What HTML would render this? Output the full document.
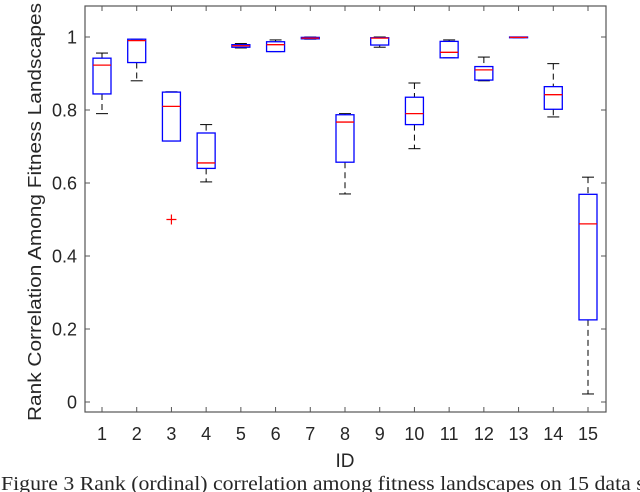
<!DOCTYPE html>
<html><head><meta charset="utf-8"><style>
body{margin:0;background:#fff;width:640px;height:492px;overflow:hidden}
svg{display:block}
text{font-family:"Liberation Sans",sans-serif;fill:#262626}
</style></head><body>
<svg id="c" width="640" height="492">
<rect x="85" y="6" width="521" height="406" fill="#fff" stroke="#555" stroke-width="1.2"/>
<g id="marks"></g>
<text x="345" y="467" font-size="19" text-anchor="middle">ID</text>
<text transform="translate(41,212) rotate(-90)" font-size="18.5" text-anchor="middle" textLength="418" lengthAdjust="spacingAndGlyphs">Rank Correlation Among Fitness Landscapes</text>
<text x="1" y="490" font-size="19.5" textLength="668" lengthAdjust="spacingAndGlyphs" style="font-family:'Liberation Serif',serif" fill="#000">Figure 3 Rank (ordinal) correlation among fitness landscapes on 15 data sets</text>
</svg>
<script>
const categories=["1","2","3","4","5","6","7","8","9","10","11","12","13","14","15"];
const lowerWhisker=[0.79,0.88,0.715,0.603,0.97,0.96,0.994,0.57,0.972,0.694,0.943,0.88,0.998,0.781,0.022];
const q1=[0.844,0.93,0.715,0.64,0.972,0.96,0.995,0.657,0.978,0.76,0.943,0.882,0.998,0.802,0.225];
const median=[0.923,0.99,0.81,0.655,0.976,0.979,0.997,0.767,0.997,0.79,0.958,0.91,0.999,0.842,0.488];
const q3=[0.942,0.994,0.849,0.737,0.979,0.987,0.999,0.787,0.998,0.835,0.988,0.919,1.0,0.864,0.569];
const upperWhisker=[0.956,0.994,0.85,0.76,0.982,0.992,1.0,0.79,1.0,0.874,0.992,0.945,1.0,0.927,0.616];
const outliers=[[3,0.5]];
const yTicks=[0,0.2,0.4,0.6,0.8,1];
const yTickLabels=["0","0.2","0.4","0.6","0.8","1"];
const NS="http://www.w3.org/2000/svg";
const g=document.getElementById('marks');
const xs=i=>102+i*(588-102)/14;
const ys=v=>402-v*365;
function mk(tag,attrs){const e=document.createElementNS(NS,tag);for(const k in attrs)e.setAttribute(k,attrs[k]);g.appendChild(e);return e;}
yTicks.forEach((t,i)=>{
 let e=mk('line',{x1:85,x2:90,y1:ys(t),y2:ys(t),stroke:'#555'});
 
 e=mk('line',{x1:601,x2:606,y1:ys(t),y2:ys(t),stroke:'#555'});
 
 e=mk('text',{x:77,y:ys(t)+6.5,'font-size':18,'text-anchor':'end'});e.textContent=yTickLabels[i];
 
});
categories.forEach((c,i)=>{
 const x=xs(i);
 let e=mk('line',{x1:x,x2:x,y1:412,y2:407,stroke:'#555'});
 
 e=mk('line',{x1:x,x2:x,y1:6,y2:11,stroke:'#555'});
 
 e=mk('text',{x:x,y:440,'font-size':18,'text-anchor':'middle'});e.textContent=c;
 
 const w=9;
 e=mk('line',{x1:x,x2:x,y1:ys(upperWhisker[i]),y2:ys(q3[i]),stroke:'#000','stroke-dasharray':'6,4'});
 
 e=mk('line',{x1:x,x2:x,y1:ys(q1[i]),y2:ys(lowerWhisker[i]),stroke:'#000','stroke-dasharray':'6,4'});
 
 e=mk('line',{x1:x-6,x2:x+6,y1:ys(upperWhisker[i]),y2:ys(upperWhisker[i]),stroke:'#000'});
 
 e=mk('line',{x1:x-6,x2:x+6,y1:ys(lowerWhisker[i]),y2:ys(lowerWhisker[i]),stroke:'#000'});
 
 e=mk('rect',{x:x-w,y:ys(q3[i]),width:2*w,height:Math.max(0.5,ys(q1[i])-ys(q3[i])),fill:'none',stroke:'#0000ff','stroke-width':1.3});
 
 e=mk('line',{x1:x-w,x2:x+w,y1:ys(median[i]),y2:ys(median[i]),stroke:'#ff0000','stroke-width':1.3});
 
});
outliers.forEach(o=>{
 const x=xs(o[0]-1),y=ys(o[1]);
 const e=mk('path',{d:`M${x-5},${y}H${x+5}M${x},${y-5}V${y+5}`,stroke:'#ff0000','stroke-width':1.2});
 
});
</script>
</body></html>
